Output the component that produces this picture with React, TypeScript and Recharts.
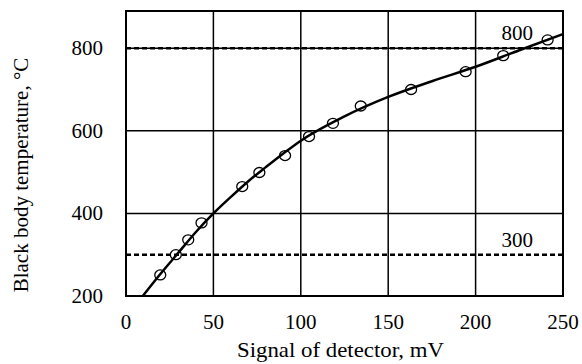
import { ComposedChart, Line, Scatter, XAxis, YAxis, CartesianGrid, ReferenceLine, ReferenceArea, Label } from 'recharts';

const xTicks = [0, 50, 100, 150, 200, 250];
const yTicks = [200, 400, 600, 800];

// measured points (open circles)
const signalMv = [19.6, 28.5, 35.6, 43.2, 66.5, 76.3, 91, 104.7, 118.4, 134.3, 163.1, 194.3, 215.8, 241.2];
const temperatureC = [251, 300, 336, 377, 465, 499, 540, 586, 618, 660, 700, 743, 782, 820];

// calibration curve
const fitSignal = [9.6, 20, 30, 40, 50, 60, 70, 80, 90, 100, 125, 150, 175, 200, 225, 250];
const fitTemp = [200, 255, 305, 355, 400, 440, 478, 512, 545, 576, 635, 682, 720, 755, 795, 834];

const limitLines = [800, 300];

const FONT = 'Liberation Serif';

const measured = signalMv.map((x, i) => ({ x, t: temperatureC[i] }));
const fit = fitSignal.map((x, i) => ({ x, t: fitTemp[i] }));

const Circle = (props: any) => {
  const { cx, cy } = props;
  if (cx == null || cy == null) return null;
  return <ellipse cx={cx} cy={cy} rx={5.5} ry={5} fill="none" stroke="#000" strokeWidth={1.3} />;
};

const XTick = (props: any) => {
  const { x, y, payload } = props;
  return (
    <text x={x} y={y + 15} textAnchor="middle" fontSize={21} fontFamily={FONT} fill="#000">
      {payload.value}
    </text>
  );
};

const YTick = (props: any) => {
  const { x, y, payload } = props;
  return (
    <text x={x} y={y + 7} textAnchor="end" fontSize={21} fontFamily={FONT} fill="#000">
      {payload.value}
    </text>
  );
};

export default function App() {
  return (
    <div style={{ position: 'absolute', left: 0, top: 0, background: '#fff' }}>
      <ComposedChart width={582} height={364} margin={{ top: 11, right: 19, left: 0, bottom: 0 }}>
        <CartesianGrid stroke="#000" strokeWidth={1.5} horizontalValues={yTicks} verticalValues={xTicks} />
        <ReferenceArea x1={0} x2={250} y1={200} y2={890} fill="none" stroke="#000" strokeWidth={2} fillOpacity={0} />
        <XAxis
          type="number"
          dataKey="x"
          domain={[0, 250]}
          ticks={xTicks}
          height={68}
          axisLine={false}
          tickLine={false}
          tickSize={0}
          tickMargin={18}
          tick={<XTick />}
        >
          <Label
            content={({ viewBox }: any) => (
              <text x={viewBox.x + viewBox.width / 2 - 4} y={357} textAnchor="middle" fontSize={21} fontFamily={FONT} fill="#000" textLength={207} lengthAdjust="spacingAndGlyphs">
                Signal of detector, mV
              </text>
            )}
          />
        </XAxis>
        <YAxis
          type="number"
          domain={[200, 890]}
          ticks={yTicks}
          width={126}
          axisLine={false}
          tickLine={false}
          tickSize={0}
          tickMargin={23}
          allowDataOverflow
          tick={<YTick />}
        >
          <Label
            content={() => (
              <text x={28} y={175} transform="rotate(-90, 28, 175)" textAnchor="middle" fontSize={21} fontFamily={FONT} fill="#000">
                Black body temperature, °C
              </text>
            )}
          />
        </YAxis>
        {limitLines.map((v) => (
          <ReferenceLine key={v} y={v} stroke="#000" strokeWidth={2.5} strokeDasharray="5 3">
            <Label
              content={({ viewBox }: any) => (
                <text x={viewBox.x + viewBox.width - 30} y={viewBox.y - 8} textAnchor="end" fontSize={21} fontFamily={FONT} fill="#000">
                  {v}
                </text>
              )}
            />
          </ReferenceLine>
        ))}
        <Line data={fit} dataKey="t" type="monotone" dot={false} stroke="#000" strokeWidth={2.5} isAnimationActive={false} />
        <Scatter data={measured} dataKey="t" shape={<Circle />} isAnimationActive={false} />
      </ComposedChart>
    </div>
  );
}
